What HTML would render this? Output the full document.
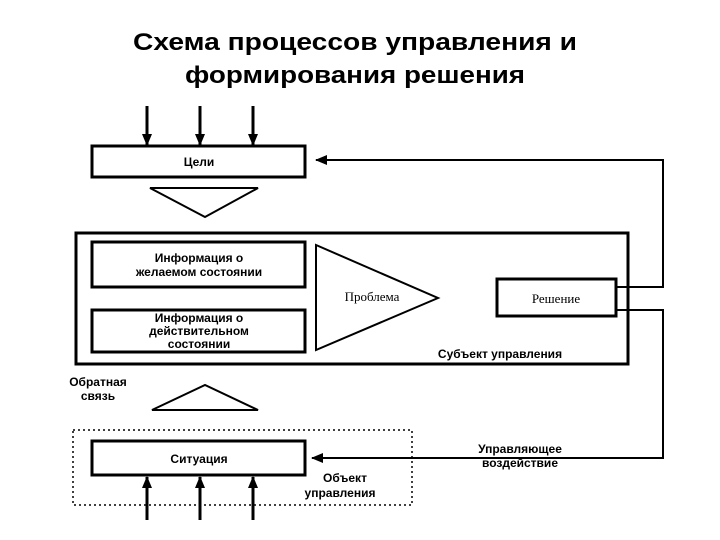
<!DOCTYPE html>
<html><head><meta charset="utf-8"><style>body{margin:0;background:#fff}svg{display:block}</style></head>
<body>
<svg width="720" height="540" viewBox="0 0 720 540" xmlns="http://www.w3.org/2000/svg" font-family="Liberation Sans, sans-serif">
<defs><marker id="a" markerWidth="8" markerHeight="8" refX="7" refY="4" orient="auto" markerUnits="userSpaceOnUse"><path d="M0,0 L8,4 L0,8 z" fill="#000"/></marker>
<marker id="b" markerWidth="12" markerHeight="10" refX="11" refY="5" orient="auto" markerUnits="userSpaceOnUse"><path d="M0,0 L12,5 L0,10 z" fill="#000"/></marker></defs>
<text x="355" y="50" font-size="24" font-weight="bold" text-anchor="middle" textLength="444" lengthAdjust="spacingAndGlyphs">Схема процессов управления и</text>
<text x="355" y="83" font-size="24" font-weight="bold" text-anchor="middle" textLength="340" lengthAdjust="spacingAndGlyphs">формирования решения</text>
<g stroke="#000" stroke-width="3" fill="none">
<line x1="147" y1="106" x2="147" y2="145" marker-end="url(#b)"/>
<line x1="200" y1="106" x2="200" y2="145" marker-end="url(#b)"/>
<line x1="253" y1="106" x2="253" y2="145" marker-end="url(#b)"/>
<line x1="147" y1="520" x2="147" y2="477" marker-end="url(#b)"/>
<line x1="200" y1="520" x2="200" y2="477" marker-end="url(#b)"/>
<line x1="253" y1="520" x2="253" y2="477" marker-end="url(#b)"/>
<rect x="92" y="146" width="213" height="31"/>
<rect x="76" y="233" width="552" height="131"/>
<rect x="92" y="242" width="213" height="45"/>
<rect x="92" y="310" width="213" height="42"/>
<rect x="497" y="279" width="119" height="37"/>
<rect x="92" y="441" width="213" height="34"/>
</g>
<g stroke="#000" stroke-width="2" fill="none">
<polygon points="150,188 258,188 205,217"/>
<polygon points="152,410 258,410 205,385"/>
<polygon points="316,245 316,350 438,298"/>
<polyline points="616,287 663,287 663,160 316,160" marker-end="url(#b)"/>
<polyline points="616,310 663,310 663,458 312,458" marker-end="url(#b)"/>
<rect x="73" y="430" width="339" height="75" stroke-dasharray="2,3" stroke-width="1.5"/>
</g>
<g font-weight="bold" font-size="12" text-anchor="middle">
<text x="199" y="166">Цели</text>
<text x="199" y="262">Информация о</text>
<text x="199" y="276">желаемом состоянии</text>
<text x="199" y="322">Информация о</text>
<text x="199" y="335">действительном</text>
<text x="199" y="348">состоянии</text>
<text x="199" y="463">Ситуация</text>
<text x="500" y="358">Субъект управления</text>
<text x="98" y="386">Обратная</text>
<text x="98" y="400">связь</text>
<text x="345" y="482">Объект</text>
<text x="340" y="497">управления</text>
<text x="520" y="453">Управляющее</text>
<text x="520" y="467">воздействие</text>
</g>
<text x="372" y="301" font-family="Liberation Serif, serif" font-size="13" text-anchor="middle">Проблема</text>
<text x="556" y="303" font-family="Liberation Serif, serif" font-size="13" text-anchor="middle">Решение</text>
</svg>
</body></html>
